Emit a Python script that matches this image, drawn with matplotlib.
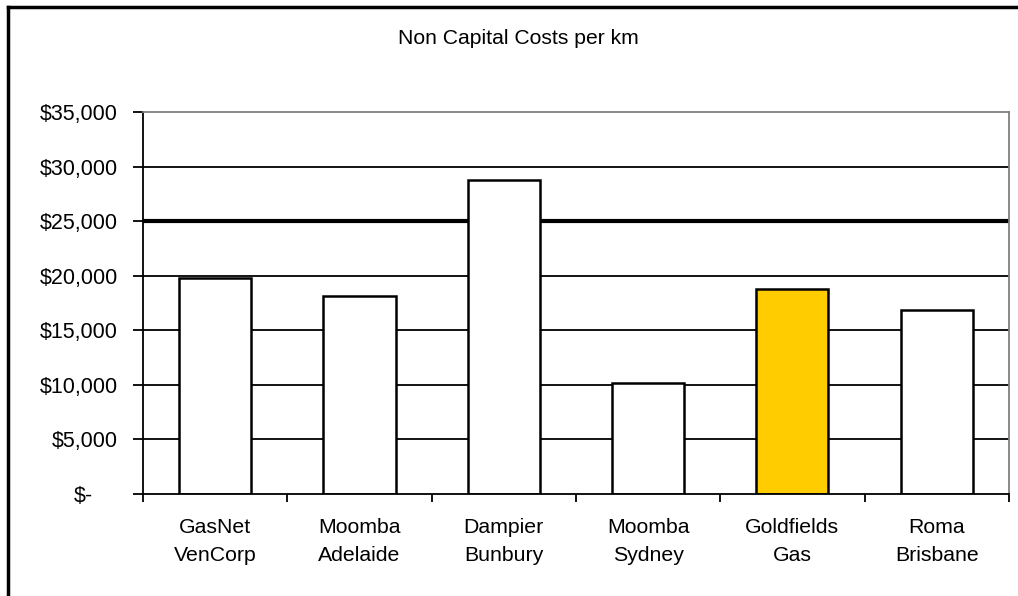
import matplotlib.pyplot as plt
from matplotlib.lines import Line2D
from matplotlib.transforms import ScaledTranslation

plt.rcParams["font.family"] = ["Liberation Sans", "DejaVu Sans"]

pipelines = ["GasNet\nVenCorp", "Moomba\nAdelaide", "Dampier\nBunbury",
             "Moomba\nSydney", "Goldfields\nGas", "Roma\nBrisbane"]
costs = [19800, 18100, 28800, 10150, 18800, 16900]
highlight = "Goldfields\nGas"
y_ticks = [0, 5000, 10000, 15000, 20000, 25000, 30000, 35000]
y_labels = ["$-", "$5,000", "$10,000", "$15,000", "$20,000",
            "$25,000", "$30,000", "$35,000"]

fig = plt.figure(figsize=(10.18, 5.96), dpi=100)
ax = fig.add_axes([0.1405, 0.1711, 0.8505, 0.641])

# gridlines (25,000 drawn heavier, like the original)
for v in y_ticks[1:-1]:
    lw = 3 if v == 25000 else 1.3
    ax.axhline(v, color="black", lw=lw, zorder=1)

x = list(range(len(pipelines)))
colors = ["#FFCC00" if p == highlight else "white" for p in pipelines]
ax.bar(x, costs, width=0.5, color=colors, edgecolor="black", linewidth=1.8, zorder=2)

ax.set_xlim(-0.5, len(pipelines) - 0.5)
ax.set_ylim(0, 35000)

ax.set_yticks(y_ticks)
ax.set_yticklabels(y_labels, fontsize=15.5)
ax.tick_params(axis="y", length=7, width=1.3, pad=11, direction="out")
# accounting-style dash sits left of the digit column
zero_lab = ax.get_yticklabels()[0]
zero_lab.set_transform(zero_lab.get_transform() + ScaledTranslation(-25 / 100, 0, fig.dpi_scale_trans))

ax.set_xticks(x)
ax.set_xticklabels(pipelines, fontsize=15.3, linespacing=1.6)
ax.tick_params(axis="x", length=0, pad=17)
ax.set_xticks([i - 0.5 for i in range(len(pipelines) + 1)], minor=True)
ax.tick_params(axis="x", which="minor", length=6, width=1.3, direction="out")

for s in ["left", "bottom"]:
    ax.spines[s].set_color("black")
    ax.spines[s].set_linewidth(1.3)
for s in ["top", "right"]:
    ax.spines[s].set_color("#808080")
    ax.spines[s].set_linewidth(1.3)

fig.text(0.509, 0.935, "Non Capital Costs per km", ha="center", va="center", fontsize=15.2)

# outer chart frame (top and left edges visible)
fig.add_artist(Line2D([8 / 1018, 1.0], [1 - 7 / 596, 1 - 7 / 596], color="black", lw=2.5,
                      transform=fig.transFigure))
fig.add_artist(Line2D([8 / 1018, 8 / 1018], [0, 1 - 7 / 596], color="black", lw=2.5,
                      transform=fig.transFigure))

fig.savefig("out.png", dpi=100)
